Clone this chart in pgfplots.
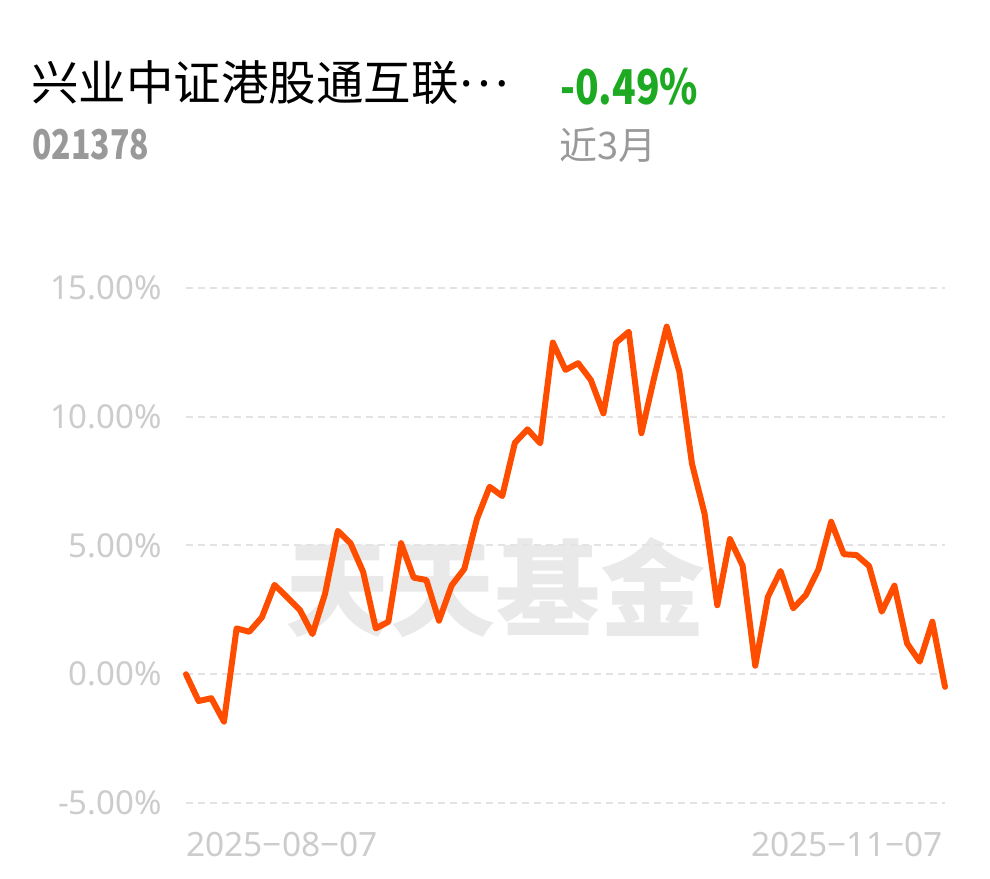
\documentclass[border=0pt]{standalone}
\usepackage{pgfplots}
\pgfplotsset{compat=1.18}
\usepackage{fontspec}
\setmainfont{Noto Sans}
\newfontfamily\cjk{Noto Sans CJK SC}
\definecolor{lineor}{HTML}{FF4D00}
\definecolor{gridc}{HTML}{E3E3E3}
\definecolor{labc}{HTML}{CCCCCC}
\definecolor{greenc}{HTML}{1DAA22}
\definecolor{codec}{HTML}{999999}
\definecolor{wm}{HTML}{E9E9E9}
\pgfplotstableread{
x y
0 0.00
1 -1.04
2 -0.93
3 -1.84
4 1.78
5 1.65
6 2.21
7 3.47
8 2.99
9 2.50
10 1.56
11 3.14
12 5.57
13 5.09
14 3.98
15 1.78
16 2.04
17 5.09
18 3.75
19 3.66
20 2.08
21 3.45
22 4.09
23 6.03
24 7.28
25 6.92
26 8.99
27 9.51
28 8.97
29 12.88
30 11.82
31 12.08
32 11.43
33 10.13
34 12.88
35 13.30
36 9.36
37 11.50
38 13.50
39 11.75
40 8.17
41 6.22
42 2.68
43 5.25
44 4.22
45 0.33
46 3.01
47 4.01
48 2.56
49 3.08
50 4.08
51 5.92
52 4.66
53 4.63
54 4.20
55 2.43
56 3.44
57 1.20
58 0.49
59 2.04
60 -0.49
}\navdata
\begin{document}
\begin{tikzpicture}
\path[use as bounding box] (0pt,0pt) rectangle (990pt,878pt);
\node[anchor=base west, inner sep=0pt] at (31pt,777pt) {\fontsize{47.5}{56}\selectfont\cjk 兴业中证港股通互联\raisebox{0.3em}{…}};
\node[anchor=base west, inner sep=0pt, text=codec] at (32pt,718pt) {\scalebox{0.78}[1]{\fontsize{41}{49}\selectfont\cjk\bfseries 021378}};
\node[anchor=base west, inner sep=0pt, text=greenc] at (560pt,773pt) {\scalebox{0.81}[1]{\fontsize{48}{56}\selectfont\cjk\bfseries -0.49\%}};
\node[anchor=base west, inner sep=0pt, text=codec] at (559pt,718pt) {\fontsize{38}{45}\selectfont\cjk 近3月};
\node[text=wm, inner sep=0pt] at (495pt,290pt) {\fontsize{105}{110}\selectfont\cjk\bfseries 天天基金};
\begin{axis}[at={(186pt,75pt)}, anchor=south west, scale only axis,
  width=759pt, height=515pt,
  xmin=0, xmax=60, ymin=-5, ymax=15,
  axis line style={draw=none}, major tick length=0pt,
  ytick={-5,0,5,10,15},
  yticklabels={-5.00\%,0.00\%,5.00\%,10.00\%,15.00\%},
  ymajorgrids,
  grid style={gridc, line width=2pt, dash pattern=on 7pt off 5pt},
  yticklabel style={anchor=east, inner sep=0pt, xshift=-24pt, text=labc, font=\fontsize{33}{38}\selectfont},
  xtick={0}, xticklabels={2025−08−07},
  xticklabel style={anchor=north west, inner sep=0pt, yshift=-29pt, text=labc, font=\fontsize{33.5}{38}\selectfont},
  extra x ticks={60}, extra x tick labels={2025−11−07},
  extra x tick style={xticklabel style={anchor=north east, xshift=-2pt}},
  clip=false]
\addplot[lineor, line width=6pt, line join=round, line cap=round] table[x=x,y=y] {\navdata};
\end{axis}
\end{tikzpicture}
\end{document}
